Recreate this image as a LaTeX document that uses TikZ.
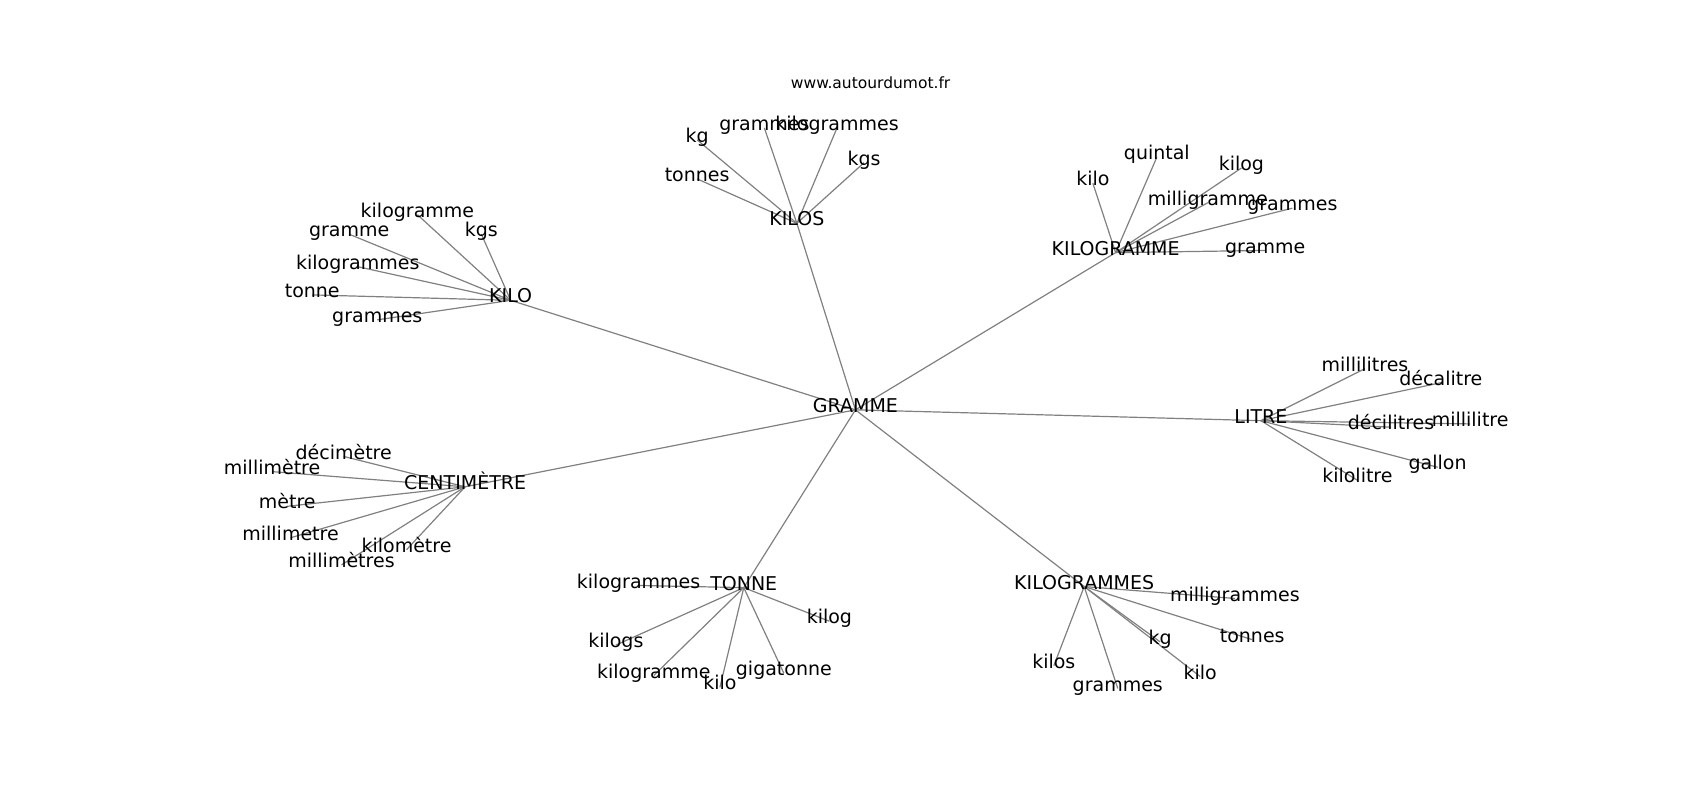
\documentclass[tikz,border=0pt]{standalone}
\usepackage{fontspec}
\setmainfont{DejaVu Sans}
\usetikzlibrary{backgrounds}
\definecolor{edgegray}{RGB}{128,128,128}
\tikzset{
  word/.style={inner sep=0pt, font=\fontsize{19}{22}\selectfont, text height=0.74em, text depth=0.22em},
  link/.style={draw=edgegray, line width=1.2pt},
  credit/.style={inner sep=0pt, font=\fontsize{15.5}{18}\selectfont}
}
\begin{document}
\begin{tikzpicture}[x=1.0842pt, y=-1.0842pt]
\useasboundingbox (0,0) rectangle (1568,738);
\node[credit] (url) at (803,76) {www.autourdumot.fr};
\begin{scope}[shift={(0,3)}]
% hubs
\node[word] (gramme) at (789,375) {GRAMME};
\node[word] (kilos) at (735,203) {KILOS};
\node[word] (kgramme) at (1029,230) {KILOGRAMME};
\node[word] (kilo) at (471,274) {KILO};
\node[word] (centi) at (429,446) {CENTIMÈTRE};
\node[word] (tonne) at (686,539) {TONNE};
\node[word] (kgrammes) at (1000,538) {KILOGRAMMES};
\node[word] (litre) at (1163,385) {LITRE};
% KILOS leaves
\node[word] (a1) at (643,126) {kg};
\node[word] (a2) at (705,115) {grammes};
\node[word] (a3) at (772,115) {kilogrammes};
\node[word] (a4) at (643,162) {tonnes};
\node[word] (a5) at (797,147) {kgs};
% KILOGRAMME leaves
\node[word] (b1) at (1008,166) {kilo};
\node[word] (b2) at (1067,142) {quintal};
\node[word] (b3) at (1145,152) {kilog};
\node[word] (b4) at (1114,184) {milligramme};
\node[word] (b5) at (1192,189) {grammes};
\node[word] (b6) at (1167,228) {gramme};
% KILO leaves
\node[word] (c1) at (385,195) {kilogramme};
\node[word] (c2) at (322,213) {gramme};
\node[word] (c3) at (444,213) {kgs};
\node[word] (c4) at (330,243) {kilogrammes};
\node[word] (c5) at (288,269) {tonne};
\node[word] (c6) at (348,292) {grammes};
% CENTIMETRE leaves
\node[word] (d1) at (317,418) {décimètre};
\node[word] (d2) at (251,432) {millimètre};
\node[word] (d3) at (265,464) {mètre};
\node[word] (d4) at (268,493) {millimetre};
\node[word] (d5) at (375,504) {kilomètre};
\node[word] (d6) at (315,518) {millimètres};
% TONNE leaves
\node[word] (e1) at (589,537) {kilogrammes};
\node[word] (e2) at (568,592) {kilogs};
\node[word] (e3) at (603,620) {kilogramme};
\node[word] (e4) at (664,631) {kilo};
\node[word] (e5) at (723,618) {gigatonne};
\node[word] (e6) at (765,570) {kilog};
% KILOGRAMMES leaves
\node[word] (f1) at (1139,549) {milligrammes};
\node[word] (f2) at (1155,587) {tonnes};
\node[word] (f3) at (1070,589) {kg};
\node[word] (f4) at (972,611) {kilos};
\node[word] (f5) at (1031,632) {grammes};
\node[word] (f6) at (1107,621) {kilo};
% LITRE leaves
\node[word] (g1) at (1259,337) {millilitres};
\node[word] (g2) at (1329,350) {décalitre};
\node[word] (g3) at (1283,391) {décilitres};
\node[word] (g4) at (1356,388) {millilitre};
\node[word] (g5) at (1326,428) {gallon};
\node[word] (g6) at (1252,440) {kilolitre};
\end{scope}
\begin{pgfonlayer}{background}
\foreach \h in {kilos,kgramme,kilo,centi,tonne,kgrammes,litre}
  \draw[link] (gramme.center) -- (\h.center);
\foreach \l in {a1,a2,a3,a4,a5} \draw[link] (kilos.center) -- (\l.center);
\foreach \l in {b1,b2,b3,b4,b5,b6} \draw[link] (kgramme.center) -- (\l.center);
\foreach \l in {c1,c2,c3,c4,c5,c6} \draw[link] (kilo.center) -- (\l.center);
\foreach \l in {d1,d2,d3,d4,d5,d6} \draw[link] (centi.center) -- (\l.center);
\foreach \l in {e1,e2,e3,e4,e5,e6} \draw[link] (tonne.center) -- (\l.center);
\foreach \l in {f1,f2,f3,f4,f5,f6} \draw[link] (kgrammes.center) -- (\l.center);
\foreach \l in {g1,g2,g3,g4,g5,g6} \draw[link] (litre.center) -- (\l.center);
\end{pgfonlayer}
\end{tikzpicture}
\end{document}
